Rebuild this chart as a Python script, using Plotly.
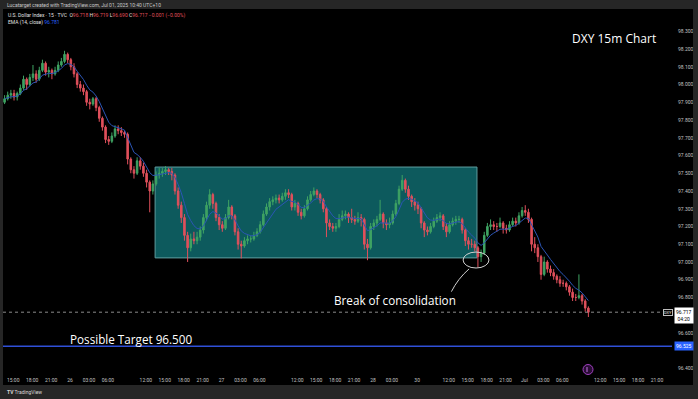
import plotly.graph_objects as go
import pandas as pd

# ---------------- data (30-minute candles) ----------------
opens = [
    97.90, 97.92, 97.94, 97.95, 97.93, 97.95, 97.98, 98.03, 98.00, 98.04,
    98.06, 98.03, 98.08, 98.12, 98.07, 98.08, 98.06, 98.08, 98.11, 98.13,
    98.17, 98.14, 98.10, 98.06, 98.00, 97.98, 97.96, 97.90, 97.89, 97.92,
    97.87, 97.81, 97.76, 97.69, 97.68, 97.71, 97.75, 97.74, 97.73, 97.72,
    97.58, 97.52, 97.50, 97.57, 97.54, 97.50, 97.45, 97.40, 97.44, 97.49,
    97.50, 97.51, 97.52, 97.51, 97.49, 97.40, 97.32, 97.25, 97.15, 97.08,
    97.13, 97.12, 97.14, 97.18, 97.25, 97.32, 97.38, 97.33, 97.25, 97.21,
    97.19, 97.25, 97.31, 97.26, 97.17, 97.10, 97.09, 97.12, 97.13, 97.13,
    97.15, 97.17, 97.21, 97.27, 97.31, 97.34, 97.35, 97.36, 97.35, 97.37,
    97.39, 97.38, 97.31, 97.33, 97.28, 97.26, 97.30, 97.35, 97.38, 97.40,
    97.38, 97.35, 97.30, 97.22, 97.20, 97.19, 97.20, 97.24, 97.26, 97.27,
    97.25, 97.24, 97.23, 97.25, 97.24, 97.10, 97.08, 97.20, 97.22, 97.24,
    97.27, 97.22, 97.21, 97.22, 97.27, 97.33, 97.41, 97.46, 97.41, 97.37,
    97.34,
    97.32, 97.30, 97.22, 97.18, 97.17, 97.20, 97.23, 97.25, 97.26, 97.20,
    97.17, 97.21, 97.23, 97.24, 97.24, 97.18, 97.12, 97.10, 97.10, 97.08,
    97.03, 97.05, 97.15, 97.20, 97.21, 97.20, 97.20, 97.22, 97.19, 97.18,
    97.21, 97.23, 97.22, 97.26, 97.29, 97.28, 97.24, 97.10, 97.08, 97.03,
    96.93, 97.00, 96.96, 96.94, 96.92, 96.90, 96.88, 96.88, 96.86, 96.83,
    96.80, 96.80, 96.81, 96.78, 96.74,
]
highs = [
    97.94, 97.96, 97.97, 97.97, 97.96, 98.00, 98.05, 98.04, 98.06, 98.11,
    98.08, 98.10, 98.14, 98.13, 98.10, 98.09, 98.10, 98.13, 98.15, 98.19,
    98.18, 98.15, 98.12, 98.07, 98.02, 98.00, 97.97, 97.92, 97.93, 97.93,
    97.88, 97.82, 97.77, 97.71, 97.73, 97.77, 97.77, 97.76, 97.74, 97.73,
    97.59, 97.54, 97.59, 97.59, 97.56, 97.52, 97.46, 97.46, 97.51, 97.53,
    97.53, 97.54, 97.53, 97.53, 97.50, 97.42, 97.34, 97.27, 97.17, 97.16,
    97.17, 97.17, 97.20, 97.27, 97.34, 97.41, 97.39, 97.34, 97.27, 97.23,
    97.27, 97.35, 97.32, 97.27, 97.19, 97.12, 97.14, 97.15, 97.15, 97.17,
    97.19, 97.23, 97.29, 97.33, 97.36, 97.37, 97.38, 97.38, 97.39, 97.41,
    97.41, 97.39, 97.35, 97.34, 97.30, 97.32, 97.37, 97.40, 97.42, 97.41,
    97.39, 97.36, 97.31, 97.24, 97.22, 97.22, 97.27, 97.29, 97.29, 97.28,
    97.30, 97.26, 97.28, 97.27, 97.25, 97.13, 97.22, 97.24, 97.26, 97.35,
    97.28, 97.24, 97.25, 97.29, 97.35, 97.43, 97.49, 97.47, 97.43, 97.38,
    97.36,
    97.34, 97.31, 97.23, 97.20, 97.22, 97.25, 97.27, 97.28, 97.27, 97.22,
    97.23, 97.25, 97.26, 97.26, 97.25, 97.19, 97.14, 97.13, 97.12, 97.09,
    97.07, 97.17, 97.22, 97.24, 97.23, 97.22, 97.25, 97.23, 97.21, 97.23,
    97.25, 97.25, 97.28, 97.31, 97.32, 97.30, 97.25, 97.14, 97.10, 97.04,
    97.03, 97.01, 96.98, 96.96, 96.93, 96.92, 96.90, 96.89, 96.87, 96.85,
    96.82, 96.93, 96.82, 96.79, 96.75,
]
lows = [
    97.89, 97.91, 97.92, 97.91, 97.91, 97.94, 97.97, 97.97, 97.99, 98.02,
    98.01, 98.02, 98.07, 98.05, 98.04, 98.03, 98.05, 98.07, 98.10, 98.12,
    98.12, 98.08, 98.04, 97.98, 97.96, 97.94, 97.88, 97.86, 97.88, 97.85,
    97.79, 97.74, 97.67, 97.66, 97.67, 97.70, 97.72, 97.71, 97.70, 97.55,
    97.50, 97.47, 97.49, 97.52, 97.48, 97.42, 97.28, 97.38, 97.43, 97.47,
    97.48, 97.49, 97.49, 97.46, 97.38, 97.30, 97.22, 97.12, 97.00, 97.06,
    97.10, 97.10, 97.12, 97.16, 97.23, 97.30, 97.30, 97.23, 97.18, 97.17,
    97.18, 97.24, 97.24, 97.15, 97.07, 97.02, 97.08, 97.10, 97.11, 97.12,
    97.14, 97.16, 97.20, 97.26, 97.29, 97.32, 97.33, 97.33, 97.34, 97.35,
    97.36, 97.29, 97.29, 97.26, 97.24, 97.25, 97.29, 97.34, 97.37, 97.36,
    97.33, 97.28, 97.14, 97.18, 97.17, 97.17, 97.19, 97.23, 97.24, 97.22,
    97.22, 97.21, 97.22, 97.20, 97.07, 97.01, 97.07, 97.18, 97.20, 97.23,
    97.19, 97.18, 97.19, 97.21, 97.26, 97.32, 97.40, 97.39, 97.35, 97.31,
    97.29,
    97.27, 97.19, 97.14, 97.15, 97.16, 97.19, 97.22, 97.23, 97.18, 97.14,
    97.16, 97.20, 97.21, 97.22, 97.16, 97.09, 97.07, 97.08, 97.06, 96.97,
    97.00, 97.04, 97.14, 97.18, 97.18, 97.17, 97.19, 97.16, 97.16, 97.17,
    97.20, 97.20, 97.21, 97.25, 97.26, 97.22, 97.06, 97.05, 97.00, 96.90,
    96.92, 96.94, 96.92, 96.90, 96.88, 96.86, 96.86, 96.84, 96.81, 96.78,
    96.78, 96.79, 96.76, 96.72, 96.69,
]
closes = [
    97.92, 97.94, 97.95, 97.93, 97.95, 97.98, 98.03, 98.00, 98.04, 98.06,
    98.03, 98.08, 98.12, 98.07, 98.08, 98.06, 98.08, 98.11, 98.13, 98.17,
    98.14, 98.10, 98.06, 98.00, 97.98, 97.96, 97.90, 97.89, 97.92, 97.87,
    97.81, 97.76, 97.69, 97.68, 97.71, 97.75, 97.74, 97.73, 97.72, 97.58,
    97.52, 97.50, 97.57, 97.54, 97.50, 97.45, 97.40, 97.44, 97.49, 97.50,
    97.51, 97.52, 97.51, 97.49, 97.40, 97.32, 97.25, 97.15, 97.08, 97.13,
    97.12, 97.14, 97.18, 97.25, 97.32, 97.38, 97.33, 97.25, 97.21, 97.19,
    97.25, 97.31, 97.26, 97.17, 97.10, 97.09, 97.12, 97.13, 97.13, 97.15,
    97.17, 97.21, 97.27, 97.31, 97.34, 97.35, 97.36, 97.35, 97.37, 97.39,
    97.38, 97.31, 97.33, 97.28, 97.26, 97.30, 97.35, 97.38, 97.40, 97.38,
    97.35, 97.30, 97.22, 97.20, 97.19, 97.20, 97.24, 97.26, 97.27, 97.25,
    97.24, 97.23, 97.25, 97.24, 97.10, 97.08, 97.20, 97.22, 97.24, 97.27,
    97.22, 97.21, 97.22, 97.27, 97.33, 97.41, 97.46, 97.41, 97.37, 97.34,
    97.32,
    97.30, 97.22, 97.18, 97.17, 97.20, 97.23, 97.25, 97.26, 97.20, 97.17,
    97.21, 97.23, 97.24, 97.24, 97.18, 97.12, 97.10, 97.10, 97.08, 97.03,
    97.05, 97.15, 97.20, 97.21, 97.20, 97.20, 97.22, 97.19, 97.18, 97.21,
    97.23, 97.22, 97.26, 97.29, 97.28, 97.24, 97.10, 97.08, 97.03, 96.93,
    97.00, 96.96, 96.94, 96.92, 96.90, 96.88, 96.88, 96.86, 96.83, 96.80,
    96.80, 96.81, 96.78, 96.74, 96.717,
]

# time-axis labels and their trading-hour offsets from Jun 25 13:30 (weekend gap removed)
tick_labels = ["15:00", "18:00", "21:00", "26", "03:00", "06:00", "12:00", "15:00",
               "18:00", "21:00", "27", "03:00", "06:00", "12:00", "15:00", "18:00",
               "21:00", "28", "03:00", "30", "12:00", "15:00", "18:00", "21:00",
               "Jul", "03:00", "06:00", "12:00", "15:00", "18:00", "21:00"]
tick_hours = [1.5, 4.5, 7.5, 10.5, 13.5, 16.5, 22.5, 25.5,
              28.5, 31.5, 34.5, 37.5, 40.5, 46.5, 49.5, 52.5,
              55.5, 58.5, 61.5, 65.5, 70.5, 73.5, 76.5, 79.5,
              82.5, 85.5, 88.5, 94.5, 97.5, 100.5, 103.5]

price_ticks = [96.4, 96.6, 96.8, 96.9, 97.0, 97.1, 97.2, 97.3, 97.4, 97.5,
               97.6, 97.7, 97.8, 97.9, 98.0, 98.1, 98.2, 98.3]

last_price = 96.717
ema_last = 96.781
target_price = 96.525
box_low, box_high = 97.023, 97.535

# ---------------- figure ----------------
UP = "#3fa363"
DOWN = "#e0505c"
FONT = "Roboto"

n = len(closes)
assert len(opens) == n and len(highs) == n and len(lows) == n
x = list(range(n))
ema = pd.Series(closes).ewm(span=7, adjust=False).mean()

tickvals = [2 * h - 0.25 for h in tick_hours]

fig = go.Figure()
fig.add_trace(go.Candlestick(
    x=x, open=opens, high=highs, low=lows, close=closes,
    increasing=dict(line=dict(color=UP, width=1), fillcolor=UP),
    decreasing=dict(line=dict(color=DOWN, width=1), fillcolor=DOWN),
    whiskerwidth=0, hoverinfo="skip", showlegend=False,
))
fig.add_trace(go.Scatter(
    x=x, y=ema, mode="lines", line=dict(color="#2b55b5", width=1),
    hoverinfo="skip", showlegend=False,
))

W, H = 698, 399
L, R, T, B = 3, 26, 10, 27
pw, ph = W - L - R, H - T - B


def px(xp):
    return (xp - L) / pw


def py(yp):
    return (H - B - yp) / ph


shapes = [
    # consolidation box
    dict(type="rect", xref="x", yref="y", x0=47.7, x1=149.7, y0=box_low, y1=box_high,
         fillcolor="#0d5a5d", line=dict(color="#5f9ea0", width=1), layer="below"),
    # ellipse around the break
    dict(type="circle", xref="x", yref="y", x0=145.3, x1=153.5, y0=96.966, y1=97.056,
         line=dict(color="#d0d0d0", width=1)),
    # curved pointer
    dict(type="path", xref="x", yref="y",
         path="M 147.2,96.961 Q 143.6,96.905 141.6,96.833",
         line=dict(color="#d0d0d0", width=1)),
    # last-price dotted line
    dict(type="line", xref="paper", yref="y", x0=0, x1=1, y0=last_price, y1=last_price,
         line=dict(color="#8a8a8a", width=1, dash="dot")),
    # target line
    dict(type="line", xref="paper", yref="y", x0=0, x1=1, y0=target_price, y1=target_price,
         line=dict(color="#3050d8", width=1.6)),
    # event marker (paper-referenced so it is not clipped by the plot edge)
    dict(type="circle", xref="paper", yref="paper", xsizemode="pixel", ysizemode="pixel",
         xanchor=px(588), yanchor=py(369.5), x0=-5, x1=5, y0=-5, y1=5,
         fillcolor="#2a0d35", line=dict(color="#a040c0", width=1)),
    dict(type="line", xref="paper", yref="paper", xsizemode="pixel", ysizemode="pixel",
         xanchor=px(588), yanchor=py(369.5), x0=-1, x1=-1, y0=-2.5, y1=2.5,
         line=dict(color="#c070e0", width=1)),
    # frame: header, footer, side strips
    dict(type="rect", xref="paper", yref="paper", x0=px(0), x1=px(W), y0=py(9), y1=py(0),
         fillcolor="#262626", line=dict(width=0), layer="above"),
    dict(type="rect", xref="paper", yref="paper", x0=px(0), x1=px(W), y0=py(H), y1=py(385),
         fillcolor="#262626", line=dict(width=0), layer="above"),
    dict(type="rect", xref="paper", yref="paper", x0=px(0), x1=px(3), y0=py(H), y1=py(0),
         fillcolor="#262626", line=dict(width=0), layer="above"),
    dict(type="rect", xref="paper", yref="paper", x0=px(693), x1=px(W), y0=py(H), y1=py(0),
         fillcolor="#262626", line=dict(width=0), layer="above"),
]

red = DOWN
legend1 = ("U.S. Dollar Index · 15 · TVC  "
           f"O<span style='color:{red}'>96.718</span> H<span style='color:{red}'>96.719</span> "
           f"L<span style='color:{red}'>96.690</span> C<span style='color:{red}'>96.717</span> "
           f"<span style='color:{red}'>−0.001 (−0.00%)</span>")
legend2 = f"EMA (14, close) <span style='color:#2962ff'>{ema_last:.3f}</span>"

annotations = [
    dict(text="Lucatarget created with TradingView.com, Jul 01, 2025 10:40 UTC+10",
         xref="paper", yref="paper", x=px(5), y=py(5), xanchor="left", yanchor="middle",
         showarrow=False, font=dict(family=FONT, size=5, color="#c8c8c8")),
    dict(text=legend1, xref="paper", yref="paper", x=px(6), y=py(15), xanchor="left",
         yanchor="middle", showarrow=False, font=dict(family=FONT, size=5, color="#e0e0e0")),
    dict(text=legend2, xref="paper", yref="paper", x=px(6), y=py(22), xanchor="left",
         yanchor="middle", showarrow=False, font=dict(family=FONT, size=5, color="#e0e0e0")),
    dict(text="DXY 15m Chart", xref="paper", yref="paper", x=px(614), y=py(38),
         xanchor="center", yanchor="middle", showarrow=False,
         font=dict(family="Open Sans", size=12, color="#ffffff")),
    dict(text=f"Possible Target {96.5:.3f}", xref="paper", yref="paper", x=px(68), y=py(339),
         xanchor="left", yanchor="middle", showarrow=False,
         font=dict(family="Open Sans", size=11.7, color="#ffffff")),
    dict(text="Break of consolidation", xref="paper", yref="paper", x=px(332), y=py(300),
         xanchor="left", yanchor="middle", showarrow=False,
         font=dict(family="Open Sans", size=11.7, color="#ffffff")),
    # price-axis labels
    dict(text=f"{last_price:.3f}<br>04:20", xref="paper", yref="y", x=px(683.5), y=last_price,
         yshift=-3, xanchor="center", yanchor="middle", showarrow=False, bgcolor="#ffffff",
         borderpad=1, font=dict(family=FONT, size=5, color="#000000")),
    dict(text="DXY", xref="paper", yref="y", x=px(667.5), y=last_price, xanchor="center",
         yanchor="middle", showarrow=False, bgcolor="#000000", bordercolor="#bdbdbd",
         borderwidth=1, borderpad=0, font=dict(family=FONT, size=4, color="#e0e0e0")),
    dict(text=f"{target_price:.3f}", xref="paper", yref="y", x=px(683.5), y=target_price,
         xanchor="center", yanchor="middle", showarrow=False, bgcolor="#2962ff",
         borderpad=1, font=dict(family=FONT, size=5, color="#ffffff")),
    # footer logo
    dict(text="<b>TV</b> TradingView", xref="paper", yref="paper", x=px(5), y=py(392),
         xanchor="left", yanchor="middle", showarrow=False,
         font=dict(family=FONT, size=5, color="#d8d8d8")),
]

fig.update_layout(
    width=W, height=H,
    margin=dict(l=L, r=R, t=T, b=B),
    paper_bgcolor="#000000", plot_bgcolor="#000000",
    showlegend=False, hovermode=False,
    shapes=shapes, annotations=annotations,
    xaxis=dict(range=[-0.5, 211.5], tickvals=tickvals, ticktext=tick_labels,
               showgrid=False, zeroline=False, showline=False, ticks="",
               rangeslider=dict(visible=False), fixedrange=True,
               tickfont=dict(family=FONT, size=5, color="#c0c0c0"), ticklabelstandoff=4),
    yaxis=dict(range=[96.38, 98.42], side="right", tickvals=price_ticks, tickformat=".3f",
               showgrid=False, zeroline=False, showline=False, ticks="", fixedrange=True,
               tickfont=dict(family=FONT, size=5, color="#c0c0c0"), ticklabelstandoff=5),
)

fig.write_html(
    "out.html",
    config={"displayModeBar": False},
    post_script="document.body.style.margin='0';document.body.style.background='#000';",
)
